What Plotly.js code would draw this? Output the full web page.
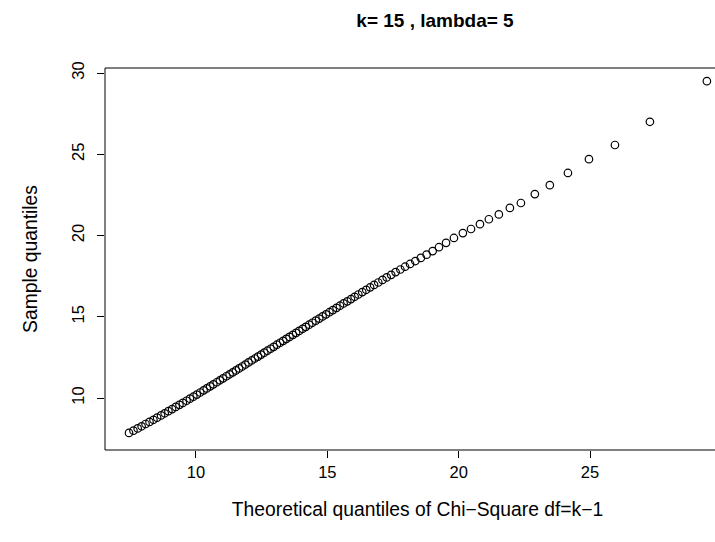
<!DOCTYPE html>
<html>
<head>
<meta charset="utf-8">
<script src="https://cdn.plot.ly/plotly-3.0.1.min.js"></script>
<style>html,body{margin:0;padding:0;background:#fff;overflow:hidden;width:715px;height:542px;}#chart{width:731px;height:542px;}</style>
</head>
<body>
<div id="chart"></div>
<script>
// Theoretical quantiles (x) and sample quantiles (y)
const theoretical = [
  7.45, 7.62, 7.78, 7.93, 8.08, 8.23, 8.38, 8.52, 8.67, 8.81,
  8.95, 9.09, 9.23, 9.37, 9.50, 9.64, 9.77, 9.90,
  10.03, 10.16, 10.29, 10.41, 10.54, 10.66, 10.79, 10.91, 11.03, 11.16,
  11.28, 11.40, 11.52, 11.64, 11.76, 11.88, 12.00, 12.12, 12.24, 12.36,
  12.48, 12.60, 12.72, 12.84, 12.96, 13.08, 13.20, 13.32, 13.44, 13.56,
  13.69, 13.81, 13.93, 14.06, 14.18, 14.31, 14.43, 14.56, 14.69, 14.82, 14.95,
  15.08, 15.21, 15.35, 15.48, 15.62, 15.76, 15.90, 16.04, 16.18, 16.33,
  16.48, 16.63, 16.78, 16.94, 17.10, 17.26, 17.43, 17.60, 17.78, 17.96,
  18.15, 18.35, 18.56, 18.78, 19.01, 19.25, 19.52,
  19.82, 20.16, 20.47, 20.81, 21.15, 21.53, 21.95, 22.37, 22.90, 23.47,
  24.16, 24.96, 25.95, 27.28, 29.45
];
const sample = [
  7.85, 7.99, 8.13, 8.26, 8.40, 8.53, 8.66, 8.79, 8.93, 9.06,
  9.19, 9.32, 9.45, 9.58, 9.70, 9.83, 9.96, 10.08,
  10.21, 10.34, 10.47, 10.59, 10.72, 10.84, 10.97, 11.09, 11.21, 11.34,
  11.46, 11.58, 11.70, 11.82, 11.94, 12.06, 12.19, 12.31, 12.43, 12.55,
  12.67, 12.79, 12.91, 13.03, 13.15, 13.28, 13.40, 13.52, 13.64, 13.76,
  13.89, 14.01, 14.13, 14.26, 14.38, 14.51, 14.63, 14.76, 14.89, 15.02, 15.15,
  15.28, 15.41, 15.55, 15.68, 15.82, 15.95, 16.09, 16.23, 16.37, 16.52,
  16.66, 16.81, 16.96, 17.11, 17.27, 17.42, 17.58, 17.75, 17.91, 18.08,
  18.25, 18.43, 18.62, 18.82, 19.04, 19.28, 19.55,
  19.85, 20.15, 20.40, 20.70, 21.00, 21.30, 21.70, 22.00, 22.55, 23.10,
  23.85, 24.70, 25.57, 27.00, 29.50
];
const xTicks = [10, 15, 20, 25];
const yTicks = [10, 15, 20, 25, 30];
const titleText = "k= 15 , lambda= 5";
const xTitle = "Theoretical quantiles of Chi\u2212Square df=k\u22121";
const yTitle = "Sample quantiles";

const font = "Liberation Sans, Arial, Helvetica, sans-serif";

const trace = {
  x: theoretical, y: sample, type: "scatter", mode: "markers",
  marker: {symbol: "circle-open", size: 7.5, color: "#000", line: {width: 1.2, color: "#000"}},
  hoverinfo: "x+y", showlegend: false, cliponaxis: false
};

const layout = {
  width: 731, height: 542,
  margin: {l: 105, r: 1, t: 68, b: 92, pad: 0},
  paper_bgcolor: "#fff", plot_bgcolor: "#fff",
  font: {family: font, size: 16, color: "#000"},
  title: {text: "<b>" + titleText + "</b>", font: {family: font, size: 19, color: "#000"},
          x: 435 / 731, xref: "container", xanchor: "center", y: 0.963, yref: "container", yanchor: "middle"},
  xaxis: {
    range: [6.536, 30.33], autorange: false, showgrid: false, zeroline: false, showline: false,
    tickmode: "array", tickvals: xTicks, ticktext: xTicks.map(String),
    ticks: "outside", ticklen: 7, tickwidth: 1, tickcolor: "#000",
    tickfont: {family: font, size: 16.5, color: "#000"},
    title: {text: xTitle, font: {family: font, size: 19.3, color: "#000"}, standoff: 22},
    automargin: false
  },
  yaxis: {
    range: [6.8, 30.31], autorange: false, showgrid: false, zeroline: false, showline: false,
    tickmode: "array", tickvals: yTicks, ticktext: yTicks.map(String),
    ticks: "outside", ticklen: 7, tickwidth: 1, tickcolor: "#000", tickangle: -90,
    ticklabelstandoff: 6,
    tickfont: {family: font, size: 16.5, color: "#000"},
    title: {text: yTitle, font: {family: font, size: 19.3, color: "#000"}, standoff: 26},
    automargin: false
  },
  shapes: [{type: "rect", xref: "paper", yref: "paper", x0: 0, x1: 1, y0: 0, y1: 1,
            line: {color: "#000", width: 1}, fillcolor: "rgba(0,0,0,0)", layer: "above"}]
};

Plotly.newPlot("chart", [trace], layout, {displayModeBar: false, staticPlot: true});
</script>
</body>
</html>
